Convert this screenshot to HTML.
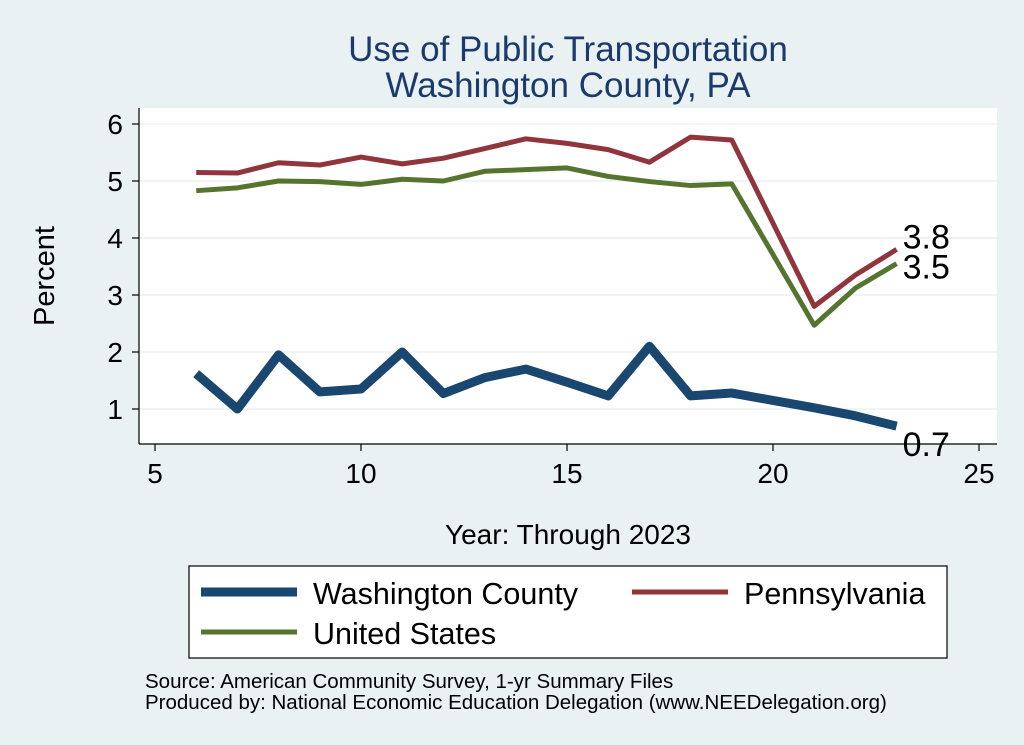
<!DOCTYPE html>
<html><head><meta charset="utf-8"><style>
body{margin:0;background:#eaf1f3;}
svg{display:block;font-family:"Liberation Sans",Arial,sans-serif;}
</style></head><body>
<svg width="1024" height="745" viewBox="0 0 1024 745">
<rect x="0" y="0" width="1024" height="745" fill="#eaf1f3"/>
<text x="568" y="61" font-size="35" text-anchor="middle" fill="#1a3a6b">Use of Public Transportation</text>
<text x="568" y="97" font-size="35" text-anchor="middle" fill="#1a3a6b">Washington County, PA</text>
<rect x="139" y="108" width="858" height="336" fill="#ffffff"/>
<g id="grid"></g>
<g id="axes"></g>
<g id="series"></g>
<text transform="translate(54,276) rotate(-90)" font-size="29" text-anchor="middle">Percent</text>
<text x="568" y="544" font-size="28" text-anchor="middle">Year: Through 2023</text>
<rect x="189" y="566" width="758" height="92" fill="#fff" stroke="#000" stroke-width="1.2"/>
<g><line x1="201" y1="592" x2="297" y2="592" stroke="#1a476f" stroke-width="9"/><text x="313" y="604" font-size="30.5">Washington County</text></g>
<g><line x1="632" y1="592" x2="728" y2="592" stroke="#90353b" stroke-width="5"/><text x="744" y="604" font-size="30.5">Pennsylvania</text></g>
<g><line x1="201" y1="632" x2="297" y2="632" stroke="#55752f" stroke-width="5"/><text x="313" y="644" font-size="30.5">United States</text></g>
<text x="145" y="688" font-size="20.5">Source: American Community Survey, 1-yr Summary Files</text>
<text x="145" y="709" font-size="20.5">Produced by: National Economic Education Delegation (www.NEEDelegation.org)</text>
</svg>
<script>
const years=[6,7,8,9,10,11,12,13,14,15,16,17,18,19,20,21,22,23];
const washington=[1.62,1.0,1.95,1.3,1.35,2.0,1.27,1.55,1.7,1.47,1.23,2.1,1.23,1.28,1.15,1.02,0.88,0.7];
const pennsylvania=[5.15,5.14,5.32,5.28,5.42,5.3,5.4,5.57,5.74,5.66,5.55,5.33,5.77,5.72,null,2.8,3.35,3.8];
const unitedStates=[4.83,4.88,5.0,4.99,4.94,5.03,5.0,5.17,5.2,5.23,5.08,4.99,4.92,4.95,null,2.47,3.12,3.55];
const xTicks=[5,10,15,20,25];
const yTicks=[1,2,3,4,5,6];
const NS='http://www.w3.org/2000/svg';
const X=v=>155+(v-5)*41.2;
const Y=v=>409-(v-1)*57;
function mk(tag,attrs,parent,text){const e=document.createElementNS(NS,tag);for(const k in attrs)e.setAttribute(k,attrs[k]);if(text!==undefined)e.textContent=text;parent.appendChild(e);return e;}
const grid=document.getElementById('grid'),axes=document.getElementById('axes'),series=document.getElementById('series');
yTicks.forEach(t=>{
 const g=mk('line',{x1:139,x2:997,y1:Y(t),y2:Y(t),stroke:'#eaf1f3','stroke-width':1.5},grid);
 
 
 mk('line',{x1:132,x2:139,y1:Y(t),y2:Y(t),stroke:'#000','stroke-width':1.2},axes);
 const l=mk('text',{x:123,y:Y(t)+10,'font-size':28,'text-anchor':'end'},axes,String(t));
 
 
});
xTicks.forEach(t=>{
 mk('line',{x1:X(t),x2:X(t),y1:444,y2:451,stroke:'#000','stroke-width':1.2},axes);
 const l=mk('text',{x:X(t),y:483,'font-size':28,'text-anchor':'middle'},axes,String(t));
 
 
});
mk('line',{x1:139,x2:139,y1:108,y2:444,stroke:'#000','stroke-width':1.2},axes);
mk('line',{x1:139,x2:997,y1:444,y2:444,stroke:'#000','stroke-width':1.2},axes);
function path(vals){let d='';vals.forEach((v,i)=>{if(v===null)return;d+=(d?'L':'M')+X(years[i])+','+Y(v);});return d;}
function draw(vals,color,w,name){
 const p=mk('path',{d:path(vals),fill:'none',stroke:color,'stroke-width':w,'stroke-linejoin':'round'},series);
 
 
}
draw(unitedStates,'#55752f',5,'united-states-line');
draw(pennsylvania,'#90353b',5,'pennsylvania-line');
draw(washington,'#1a476f',9,'washington-county-line');
const last=years.length-1;
[[pennsylvania,-1,'pennsylvania-end-label'],[unitedStates,15,'united-states-end-label'],[washington,30,'washington-county-end-label']].forEach(([a,dy,n])=>{
 const t=mk('text',{x:X(years[last])+6,y:Y(a[last])+dy,'font-size':34},series,a[last].toFixed(1));
 
 
});
</script>
</body></html>
